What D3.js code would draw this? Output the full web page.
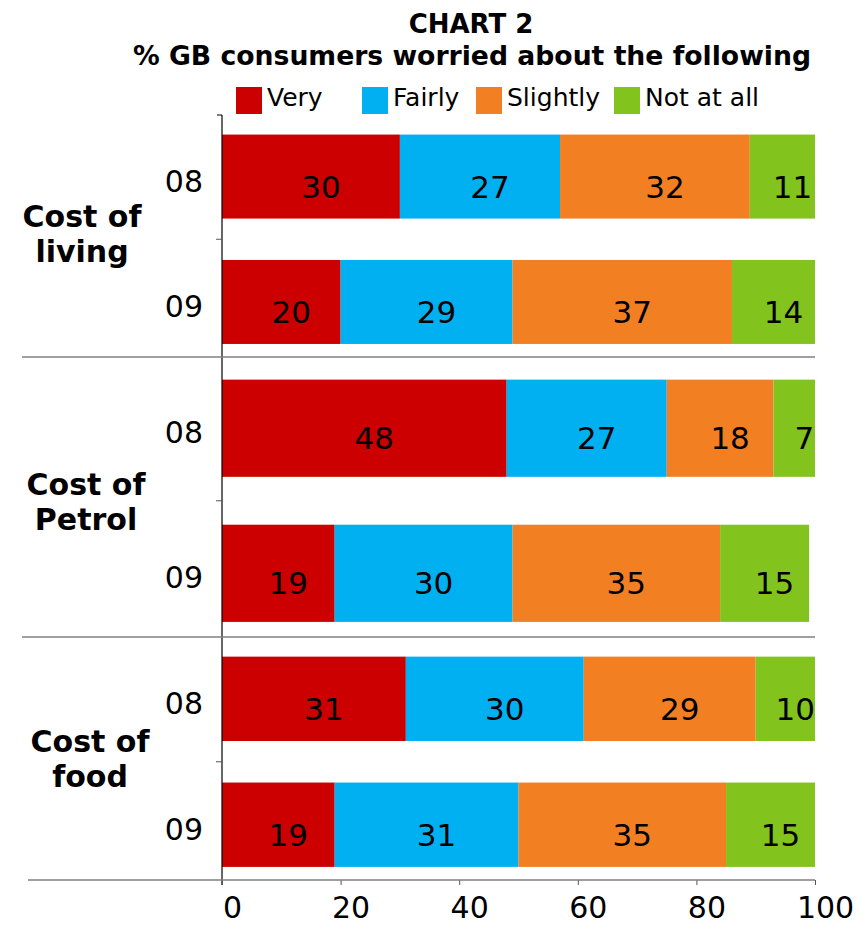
<!DOCTYPE html>
<html>
<head>
<meta charset="utf-8">
<script src="https://cdn.jsdelivr.net/npm/d3@7"></script>
<style>
  body { margin: 0; background: #fff; }
  svg { display: block; font-family: "DejaVu Sans", Verdana, sans-serif; }
</style>
</head>
<body>
<script>
// survey answers, one entry per row: living 08, living 09, petrol 08, petrol 09, food 08, food 09
const groups = ["Cost of living", "Cost of Petrol", "Cost of food"];
const groupLines = [["Cost of", "living"], ["Cost of", "Petrol"], ["Cost of", "food"]];
const years = ["08", "09"];
const levels = ["Very", "Fairly", "Slightly", "Not at all"];
const veryVals = [30, 20, 48, 19, 31, 19];
const fairlyVals = [27, 29, 27, 30, 30, 31];
const slightlyVals = [32, 37, 18, 35, 29, 35];
const notAtAllVals = [11, 14, 7, 15, 10, 15];
const xTicks = [0, 20, 40, 60, 80, 100];

const colors = ["#cc0000", "#00b0f0", "#f28022", "#82c31e"];

const width = 863, height = 926;
const left = 222, right = 815;

const svg = d3.select("body").append("svg")
  .attr("width", width)
  .attr("height", height);

const rows = [];
groups.forEach(function (g, gi) {
  years.forEach(function (yr, yi) {
    const i = gi * 2 + yi;
    rows.push({
      group: g, year: yr,
      "Very": veryVals[i],
      "Fairly": fairlyVals[i],
      "Slightly": slightlyVals[i],
      "Not at all": notAtAllVals[i]
    });
  });
});

const x = d3.scaleLinear().domain([0, 100]).range([left, right]);

// each category block has its own height on the page
const groupTop = d3.scaleOrdinal().domain(groups).range([115, 357, 637]);
const groupBottom = d3.scaleOrdinal().domain(groups).range([357, 637, 880]);
// the two-line block labels sit a little off the block centre
const labelShift = d3.scaleOrdinal().domain(groups).range([-4, 3, -2]);

function yearScale(g) {
  return d3.scaleBand()
    .domain(years)
    .range([groupTop(g), groupBottom(g)])
    .paddingInner(0.33)
    .paddingOuter(0.13)
    .align(0.6);
}

const stack = d3.stack().keys(levels);
const series = stack(rows);

// title
svg.append("text")
  .attr("x", 471).attr("y", 33)
  .attr("text-anchor", "middle")
  .style("font-weight", "bold").style("font-size", "26px")
  .text("CHART 2");
svg.append("text")
  .attr("x", 472).attr("y", 65)
  .attr("text-anchor", "middle")
  .attr("textLength", 678).attr("lengthAdjust", "spacingAndGlyphs")
  .style("font-weight", "bold").style("font-size", "26px")
  .text("% GB consumers worried about the following");

// legend
const legendX = [236, 362, 476, 614];
const legend = svg.append("g");
levels.forEach(function (lv, i) {
  legend.append("rect")
    .attr("x", legendX[i]).attr("y", 87)
    .attr("width", 26).attr("height", 27)
    .attr("fill", colors[i]);
  legend.append("text")
    .attr("x", legendX[i] + 31).attr("y", 106)
    .style("font-size", "25px")
    .text(lv);
});

// bars
const bars = svg.append("g");
series.forEach(function (s, si) {
  s.forEach(function (d) {
    const yb = yearScale(d.data.group);
    const y0 = yb(d.data.year);
    const h = yb.bandwidth();
    bars.append("rect")
      .attr("x", x(d[0]))
      .attr("y", y0)
      .attr("width", x(d[1]) - x(d[0]))
      .attr("height", h)
      .attr("fill", colors[si]);
    bars.append("text")
      .attr("x", (x(d[0]) + x(d[1])) / 2 + 10)
      .attr("y", y0 + h / 2 + 21)
      .attr("text-anchor", "middle")
      .style("font-size", "31px")
      .text(d.data[s.key]);
  });
});

// category axis
const axisG = svg.append("g");
axisG.append("line")
  .attr("x1", left).attr("x2", left)
  .attr("y1", 115).attr("y2", 885)
  .attr("stroke", "#000").attr("stroke-width", 1.2);
axisG.append("line")
  .attr("x1", left - 5).attr("x2", left)
  .attr("y1", 115).attr("y2", 115)
  .attr("stroke", "#000");

groups.forEach(function (g, gi) {
  const yb = yearScale(g);
  const midTick = (yb("08") + yb.bandwidth() + yb("09")) / 2;
  axisG.append("line")
    .attr("x1", left - 6).attr("x2", left)
    .attr("y1", midTick).attr("y2", midTick)
    .attr("stroke", "#555");

  years.forEach(function (yr) {
    axisG.append("text")
      .attr("x", 203)
      .attr("y", yb(yr) + yb.bandwidth() / 2 + 15)
      .attr("text-anchor", "end")
      .style("font-size", "30px")
      .text(yr);
  });

  const mid = (groupTop(g) + groupBottom(g)) / 2 + labelShift(g);
  groupLines[gi].forEach(function (line, li) {
    axisG.append("text")
      .attr("x", 82 + gi * 4)
      .attr("y", mid - 5 + li * 35)
      .attr("text-anchor", "middle")
      .style("font-weight", "bold").style("font-size", "30px")
      .text(line);
  });

  if (gi < groups.length - 1) {
    axisG.append("line")
      .attr("x1", 22).attr("x2", right)
      .attr("y1", groupBottom(g)).attr("y2", groupBottom(g))
      .attr("stroke", "#7f7f7f").attr("stroke-width", 1.5);
  }
});

// value axis
const xAxis = svg.append("g")
  .attr("transform", "translate(0,880)")
  .call(d3.axisBottom(x).tickValues(xTicks).tickSize(5).tickPadding(12));
xAxis.select(".domain").remove();
xAxis.selectAll(".tick line").attr("stroke", "#555");
xAxis.selectAll(".tick text")
  .attr("dx", 10)
  .attr("fill", "#000")
  .style("font-size", "30px")
  .style("font-family", "DejaVu Sans, Verdana, sans-serif");
svg.append("line")
  .attr("x1", 28).attr("x2", right)
  .attr("y1", 880).attr("y2", 880)
  .attr("stroke", "#7f7f7f").attr("stroke-width", 1.5);
</script>
</body>
</html>
